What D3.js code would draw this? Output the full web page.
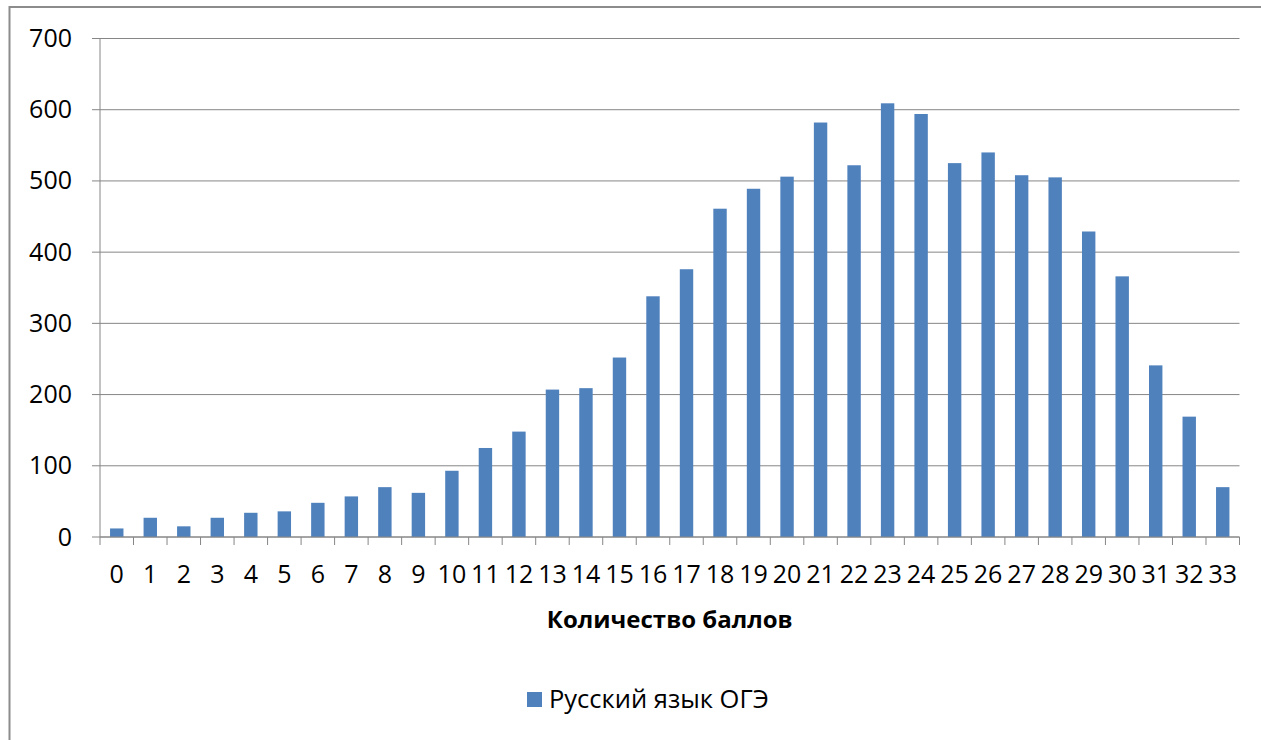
<!DOCTYPE html>
<html>
<head>
<meta charset="utf-8">
<script src="https://cdn.jsdelivr.net/npm/d3@7"></script>
<style>
  body { margin: 0; background: #fff; }
  svg { display: block; font-family: 'Open Sans', 'Noto Sans', sans-serif; }
  .axis path, .axis line { stroke: #868686; }
  .axis text { fill: #000; font-size: 25px; font-family: 'Open Sans', sans-serif; }
</style>
</head>
<body>
<div class="chart"></div>
<script>
// DATA ---------------------------------------------------------------

const scores = d3.range(0, 34).map(String);
const counts = [12, 27, 15, 27, 34, 36, 48, 57, 70, 62,
                93, 125, 148, 207, 209, 252, 338, 376, 461, 489,
                506, 582, 522, 609, 594, 525, 540, 508, 505, 429,
                366, 241, 169, 70];
const yTicks = [0, 100, 200, 300, 400, 500, 600, 700];
const seriesName = 'Русский язык ОГЭ';
const xTitle = 'Количество баллов';

// CHART INIT ---------------------------------------------------------

const margin = ({top: 38.5, right: 21.5, bottom: 203, left: 100});
const width = 1261 - margin.left - margin.right;
const height = 740 - margin.top - margin.bottom;

const root = d3.select('.chart')
    .append('svg')
    .attr('width', 1261)
    .attr('height', 740);

// outer chart frame (only left and top edges are visible)
root.append('rect')
    .attr('x', 9.5)
    .attr('y', 7)
    .attr('width', 1300)
    .attr('height', 800)
    .attr('fill', 'none')
    .attr('stroke', '#8c8c8c')
    .attr('stroke-width', 2);

const svg = root.append('g')
    .attr('transform', 'translate(' + margin.left + ',' + margin.top + ')');

const xScale = d3.scaleBand()
    .domain(scores)
    .range([0, width])
    .paddingInner(0.6)
    .paddingOuter(0.3);

// category ticks sit on band edges, like Excel
const xEdge = d3.scaleLinear()
    .domain([0, scores.length])
    .range([0, width]);

const yScale = d3.scaleLinear()
    .domain([0, 700])
    .range([height, 0]);

// gridlines
svg.append('g')
    .attr('class', 'grid')
    .selectAll('line')
    .data(yTicks)
    .enter()
    .append('line')
    .attr('x1', -8)
    .attr('x2', width)
    .attr('y1', d => yScale(d))
    .attr('y2', d => yScale(d))
    .attr('stroke', '#868686')
    .attr('stroke-width', 1);

// y axis
const yAxis = d3.axisLeft(yScale)
    .tickValues(yTicks)
    .tickSize(0)
    .tickPadding(28);

svg.append('g')
    .attr('class', 'axis y-axis')
    .call(yAxis)
    .call(g => g.select('.domain').attr('d', 'M0,0V' + height));

// bars
svg.selectAll('rect.bar')
    .data(counts)
    .enter()
    .append('rect')
    .attr('class', 'bar')
    .attr('x', (d, i) => xScale(scores[i]))
    .attr('y', d => yScale(d))
    .attr('width', xScale.bandwidth())
    .attr('height', d => height - yScale(d))
    .attr('fill', '#4f81bd');

// x axis line, tick marks, labels
const xg = svg.append('g')
    .attr('class', 'axis x-axis')
    .attr('transform', 'translate(0,' + height + ')');

xg.append('line')
    .attr('x1', 0)
    .attr('x2', width)
    .attr('stroke', '#868686');

xg.selectAll('line.tick')
    .data(d3.range(0, scores.length + 1))
    .enter()
    .append('line')
    .attr('class', 'tick')
    .attr('x1', d => xEdge(d))
    .attr('x2', d => xEdge(d))
    .attr('y1', 0)
    .attr('y2', 8)
    .attr('stroke', '#868686');

xg.selectAll('text')
    .data(scores)
    .enter()
    .append('text')
    .attr('x', d => xScale(d) + xScale.bandwidth() / 2)
    .attr('y', 46)
    .attr('text-anchor', 'middle')
    .text(d => d);

// axis title
svg.append('text')
    .attr('x', width / 2)
    .attr('y', height + 91)
    .attr('text-anchor', 'middle')
    .attr('font-size', 24)
    .attr('font-weight', 'bold')
    .attr('fill', '#000')
    .text(xTitle);

// legend
const legend = root.append('g')
    .attr('transform', 'translate(527,692)');

legend.append('rect')
    .attr('width', 15)
    .attr('height', 15)
    .attr('fill', '#4f81bd');

legend.append('text')
    .attr('x', 22)
    .attr('y', 16)
    .attr('font-size', 25.5)
    .attr('fill', '#000')
    .text(seriesName);
</script>
</body>
</html>
